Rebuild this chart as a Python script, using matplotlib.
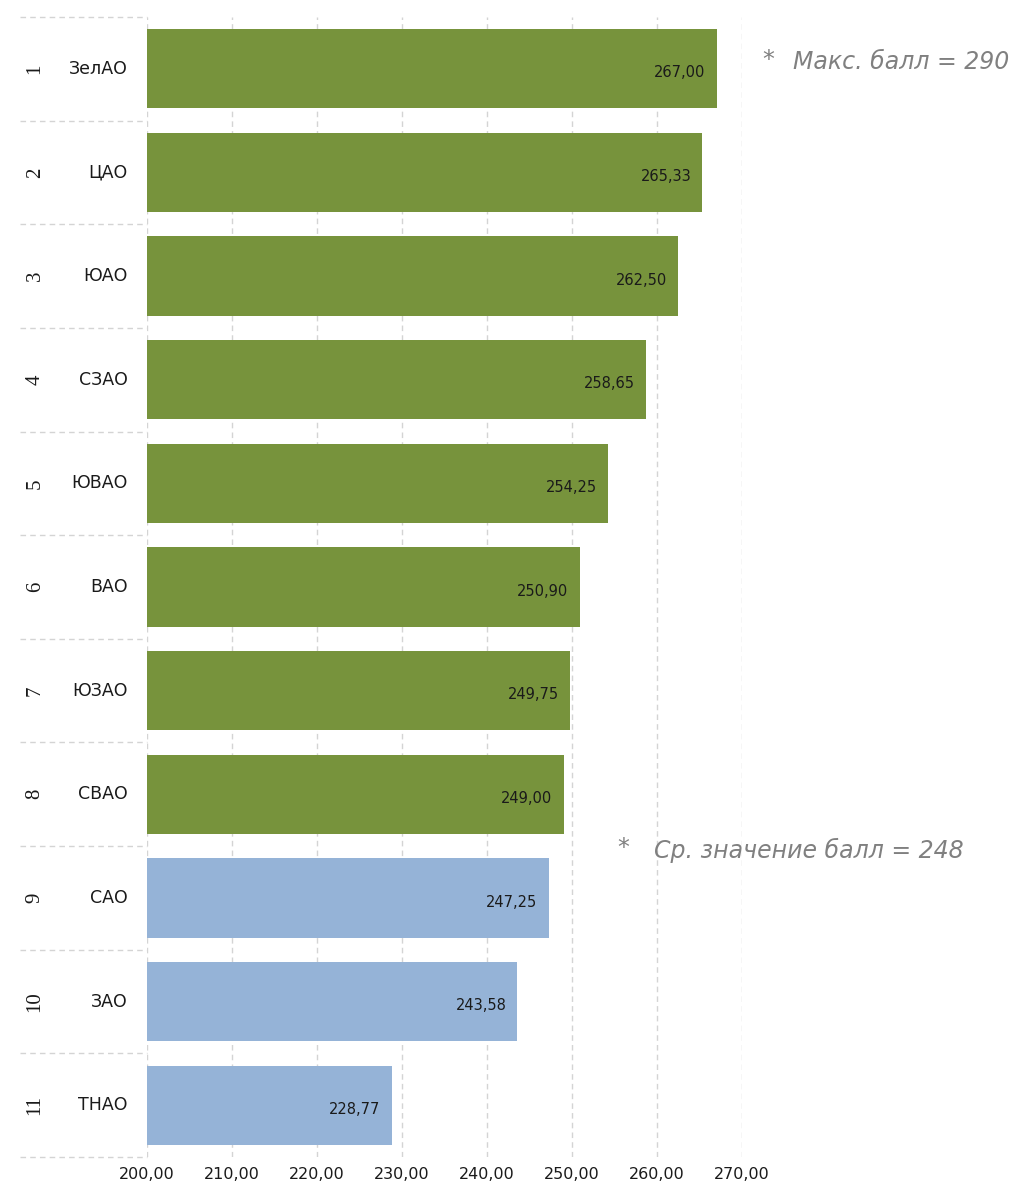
import matplotlib
matplotlib.use("Agg")
import matplotlib.pyplot as plt
import matplotlib.transforms as mtransforms

ranks = ["1", "2", "3", "4", "5", "6", "7", "8", "9", "10", "11"]
districts = ["ЗелАО", "ЦАО", "ЮАО", "СЗАО", "ЮВАО", "ВАО", "ЮЗАО", "СВАО", "САО", "ЗАО", "ТНАО"]
values = [267.00, 265.33, 262.50, 258.65, 254.25, 250.90, 249.75, 249.00, 247.25, 243.58, 228.77]
avg_score = 248
max_score = 290
xticks = [200, 210, 220, 230, 240, 250, 260, 270]

GREEN = "#77933C"
BLUE = "#95B3D7"
colors = [GREEN if v > avg_score else BLUE for v in values]

W, H = 1018, 1196
fig = plt.figure(figsize=(W / 100, H / 100), dpi=100)
left_px, right_px, top_px, bot_px = 147, 742, 17, 1157
ax = fig.add_axes([left_px / W, 1 - bot_px / H, (right_px - left_px) / W, (bot_px - top_px) / H])

y = list(range(len(values)))
ax.barh(y, [v - 200 for v in values], left=200, height=0.765, color=colors, zorder=2)
ax.set_xlim(200, 270)
ax.set_ylim(len(values) - 0.5, -0.5)

GRID = "#d4d4d4"
for xv in xticks:
    ax.axvline(xv, color=GRID, linestyle=(0, (4, 3)), linewidth=1, zorder=1)

for yi, v in zip(y, values):
    ax.text(v - 1.3, yi + 0.04, f"{v:.2f}".replace(".", ","), ha="right", va="center",
            fontsize=10.5, color="#1a1a1a", zorder=3)

trans = mtransforms.blended_transform_factory(ax.transAxes, ax.transData)
for b in [i - 0.5 for i in range(len(values) + 1)]:
    ax.plot([-0.213, 0], [b, b], transform=trans, color=GRID,
            linestyle=(0, (4, 3)), linewidth=1, clip_on=False)

for yi, (r, d) in enumerate(zip(ranks, districts)):
    ax.text(-0.188, yi, r, transform=trans, rotation=90, ha="center", va="center",
            fontsize=15, family="Liberation Serif", color="#1a1a1a")
    ax.text(-0.032, yi, d, transform=trans, ha="right", va="center",
            fontsize=12.5, color="#1a1a1a")

ax.set_xticks(xticks)
ax.set_xticklabels([f"{t:.2f}".replace(".", ",") for t in xticks], fontsize=11.5, color="#1a1a1a")
ax.tick_params(axis="x", length=0, pad=7)
ax.set_yticks([])
for s in ax.spines.values():
    s.set_visible(False)

NOTE = "#808080"
fig.text(762 / W, 1 - 60 / H, "*", fontsize=17, color=NOTE, va="center", ha="left")
fig.text(793 / W, 1 - 62 / H, "Макс. балл = 290", fontsize=17, style="italic",
         color=NOTE, va="center", ha="left")
fig.text(617 / W, 1 - 848 / H, "*", fontsize=17, color=NOTE, va="center", ha="left")
fig.text(654 / W, 1 - 850 / H, "Ср. значение балл = 248", fontsize=17, style="italic",
         color=NOTE, va="center", ha="left")

fig.savefig("out.png", dpi=100)
